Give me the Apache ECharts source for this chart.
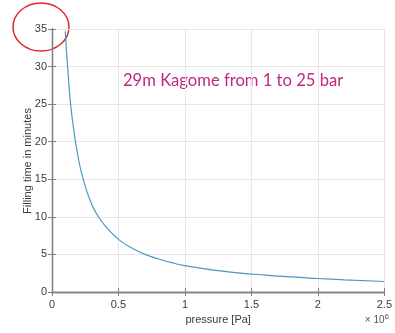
<!DOCTYPE html>
<html><head><meta charset="utf-8">
<script src="https://cdn.jsdelivr.net/npm/echarts@6/dist/echarts.min.js"></script>
<style>html,body{margin:0;padding:0;background:#fff}#c{width:395px;height:333px}</style>
</head><body><div id="c"></div>
<script>
// pressure values [Pa]
var pressure = [100000,120000,150000,200000,250000,300000,350000,400000,500000,600000,700000,800000,900000,1000000,1200000,1400000,1600000,1800000,2000000,2200000,2500000];
// filling time [minutes]
var fillTime = [34.7,29.3,23.4,17.6,14.1,11.6,10.0,8.8,7.0,5.85,5.0,4.4,3.9,3.5,2.95,2.55,2.25,2.0,1.8,1.62,1.4];
var xTicks = ['0','0.5','1','1.5','2','2.5'];
var titleText = '29m Kagome from 1 to 25 bar';
var xLabel = 'pressure [Pa]';
var yLabel = 'Filling time in minutes';

var data = pressure.map(function(p,i){return [p, fillTime[i]];});
var chart = echarts.init(document.getElementById('c'), null, {renderer:'canvas'});
var axisCol = '#808080', labCol = '#3a3a3a', font = 'Liberation Sans';
function ax(extra){
  return Object.assign({
    type:'value',
    axisLine:{show:true,lineStyle:{color:axisCol,width:1.3}},
    axisTick:{show:true,inside:true,length:4,lineStyle:{color:axisCol}},
    splitLine:{show:false},
    axisLabel:{show:false}
  }, extra);
}
chart.setOption({
  animation:false,
  backgroundColor:'#fff',
  grid:{left:52,top:29,right:9,bottom:41,containLabel:false},
  xAxis:[
    ax({position:'bottom',min:0,max:2500000,interval:500000,
      splitLine:{show:true,lineStyle:{color:'#e6e6e6'}},
      axisLabel:{show:true,color:labCol,fontFamily:font,fontSize:11,margin:7,
        formatter:function(v){return xTicks[Math.round(v/500000)];}},
      name:xLabel,nameLocation:'middle',nameGap:22,
      nameTextStyle:{color:labCol,fontFamily:font,fontSize:11}}),
    ax({position:'top',min:0,max:2500000,interval:500000})
  ],
  yAxis:[
    ax({position:'left',min:0,max:35,interval:5,
      splitLine:{show:true,lineStyle:{color:'#e6e6e6'}},
      axisLabel:{show:true,color:labCol,fontFamily:font,fontSize:11,margin:5}}),
    ax({position:'right',min:0,max:35,interval:5})
  ],
  series:[{
    type:'line',data:data,smooth:true,showSymbol:false,
    xAxisIndex:0,yAxisIndex:0,
    lineStyle:{color:'#4b97c0',width:1.2}
  }],
  graphic:[
    {type:'text',x:28,y:161,rotation:Math.PI/2,style:{text:yLabel,fill:labCol,font:'11px "Liberation Sans"',align:'center',verticalAlign:'middle'}},
    {type:'text',left:123,top:72,style:{text:titleText,fill:'#c0287e',font:'16.6px Lato'}},
    {type:'text',right:6,top:313,style:{
      rich:{a:{fontSize:10,fontFamily:font,fill:'#555'},b:{fontSize:8,fontFamily:font,fill:'#555',verticalAlign:'top',padding:[0,0,6,0]}},
      text:'{a|× 10}{b|6}'}},
    {type:'ellipse',shape:{cx:41,cy:27,rx:28,ry:24},style:{fill:'none',stroke:'#e02828',lineWidth:1.5}}
  ]
});
</script></body></html>
